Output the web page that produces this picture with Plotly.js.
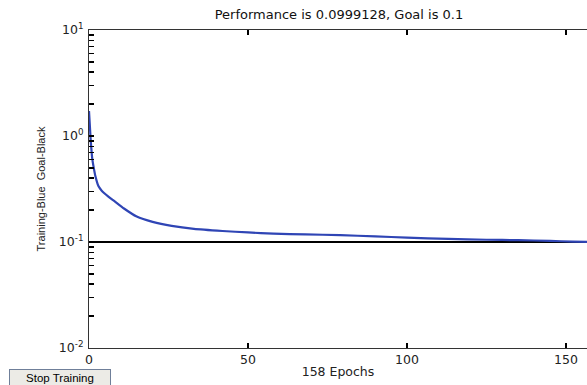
<!DOCTYPE html>
<html>
<head>
<meta charset="utf-8">
<script src="https://cdn.plot.ly/plotly-3.0.1.min.js"></script>
<style>html,body{margin:0;padding:0;background:#fff;overflow:hidden}</style>
</head>
<body>
<div id="chart" style="width:587px;height:385px"></div>
<script>
// Data
const epochs = [0, 0.5, 1, 1.5, 2, 3, 4, 6, 8, 11, 15, 20, 26, 33, 42, 50, 58, 68, 79, 90, 100, 113, 125, 135, 145, 152, 158];
const trainingPerf = [1.72, 0.95, 0.62, 0.50, 0.42, 0.335, 0.305, 0.27, 0.243, 0.207, 0.174, 0.155, 0.142, 0.133, 0.127, 0.123, 0.120, 0.118, 0.116, 0.113, 0.110, 0.107, 0.105, 0.104, 0.1025, 0.1008, 0.0999128];
const goalEpochs = [0, 158];
const goalValue = [0.1, 0.1];
const yTickVals = [0.01, 0.1, 1, 10];
const yTickText = ['10<sup>-2</sup>', '10<sup>-1</sup>', '10<sup>0</sup>', '10<sup>1</sup>'];
const yMinorVals = [0.02, 0.03, 0.04, 0.05, 0.06, 0.07, 0.08, 0.09, 0.2, 0.3, 0.4, 0.5, 0.6, 0.7, 0.8, 0.9, 2, 3, 4, 5, 6, 7, 8, 9];
const xTickVals = [0, 50, 100, 150];
const titleText = 'Performance is 0.0999128, Goal is 0.1';
const xTitle = '158 Epochs';
const yTitle = 'Training-Blue  Goal-Black';
const buttonText = 'Stop Training';

const W = 587, H = 385;
const M = {l: 89, r: 0, t: 30, b: 37};
const pw = W - M.l - M.r, ph = H - M.t - M.b;
const px = x => (x - M.l) / pw;
const py = y => (H - M.b - y) / ph;
const FONT = 'DejaVu Sans, Verdana, sans-serif';
const FONT2 = 'Liberation Sans, Arial, sans-serif';

const allYTicks = yTickVals.concat(yMinorVals);
const allYText = yTickText.concat(yMinorVals.map(() => ''));

const traces = [
  {x: goalEpochs, y: goalValue, mode: 'lines', line: {color: '#000000', width: 1.8}, hoverinfo: 'skip', showlegend: false},
  {x: epochs, y: trainingPerf, mode: 'lines', line: {color: '#2f45b5', width: 2.2, shape: 'spline', smoothing: 0.6}, showlegend: false}
];

const layout = {
  width: W, height: H,
  margin: M,
  paper_bgcolor: '#ffffff', plot_bgcolor: '#ffffff',
  font: {family: FONT, size: 12, color: '#222222'},
  showlegend: false,
  title: {text: titleText, font: {family: FONT, size: 13, color: '#111111'},
          xref: 'container', yref: 'container', x: 339 / W, xanchor: 'center', y: 1 - 14 / H, yanchor: 'middle'},
  xaxis: {
    range: [0, pw / 3.18], showgrid: false, zeroline: false,
    showline: true, linecolor: '#333333', linewidth: 1, mirror: 'ticks',
    ticks: 'inside', ticklen: 5, tickcolor: '#000000', tickwidth: 1.5,
    tickvals: xTickVals, ticktext: xTickVals.map(String),
    tickfont: {family: FONT, size: 12.5, color: '#222222'},
    title: {text: xTitle, font: {family: FONT, size: 12.5, color: '#222222'}, standoff: 1},
    automargin: false
  },
  yaxis: {
    type: 'log', range: [-2, 1], showgrid: false, zeroline: false,
    showline: true, linecolor: '#333333', linewidth: 1, mirror: false,
    ticks: 'inside', ticklen: 5, tickcolor: '#000000', tickwidth: 1.5,
    tickmode: 'array', tickvals: allYTicks, ticktext: allYText,
    tickfont: {family: FONT, size: 12.5, color: '#222222'},
    ticklabelstandoff: 2,
    title: {text: yTitle, font: {family: FONT2, size: 11, color: '#222222'}, standoff: 11},
    automargin: false
  },
  annotations: [
    {xref: 'paper', yref: 'paper', x: px(60), y: py(378), xanchor: 'center', yanchor: 'middle',
     text: buttonText, showarrow: false, font: {family: FONT2, size: 11.5, color: '#000000'},
     bgcolor: '#ecebe6', bordercolor: '#6f7f99', borderwidth: 1, width: 98, height: 14, borderpad: 1}
  ]
};

Plotly.newPlot('chart', traces, layout, {displayModeBar: false, staticPlot: true});
</script>
</body>
</html>
